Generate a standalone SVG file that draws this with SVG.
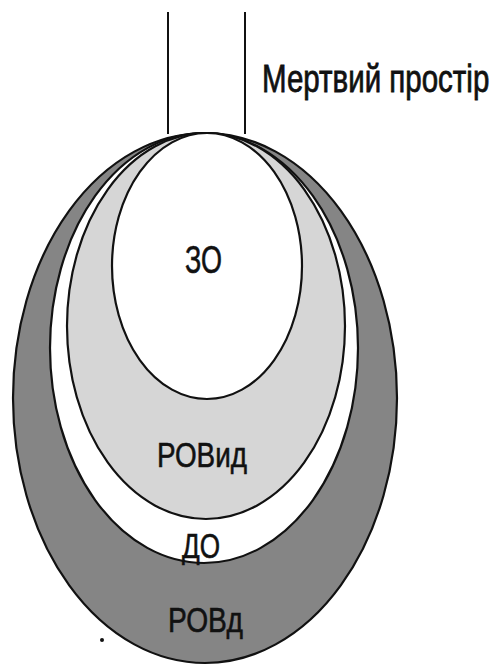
<svg xmlns="http://www.w3.org/2000/svg" width="501" height="669" viewBox="0 0 501 669">
<style>
.ln{stroke:#111;stroke-width:2;fill:none}
.sh{stroke:#111;stroke-width:2.2}
.t{font-family:"Liberation Sans",Arial,sans-serif;fill:#111;stroke:#111;stroke-width:0.6}
</style>
<rect width="501" height="669" fill="#fff"/>
<g id="tube">
<line class="ln" x1="168" y1="12" x2="168" y2="134"/>
<line class="ln" x1="245" y1="12" x2="245" y2="134"/>
</g>
<g id="label-dead-space">
<text class="t" transform="translate(262,92) scale(1,1.34)" x="0" y="0" font-size="29.5" stroke-width="0.45">Мертвий простір</text>
</g>
<g id="ROVd">
<ellipse class="sh" cx="205" cy="398" rx="192" ry="265" fill="#858585"/>
</g>
<g id="DO">
<ellipse class="sh" cx="204" cy="348" rx="154" ry="215" fill="#fff"/>
</g>
<g id="ROVid">
<ellipse class="sh" cx="206" cy="326" rx="139" ry="193" fill="#d6d6d6"/>
</g>
<g id="ZO">
<ellipse class="sh" cx="207" cy="266" rx="95" ry="133" fill="#fff"/>
</g>
<g id="labels">
<text class="t" x="185" y="273" font-size="38" textLength="37" lengthAdjust="spacingAndGlyphs">ЗО</text>
<text class="t" x="157" y="467" font-size="35" textLength="90" lengthAdjust="spacingAndGlyphs">РОВид</text>
<text class="t" x="182" y="558" font-size="35" textLength="38" lengthAdjust="spacingAndGlyphs">ДО</text>
<text class="t" x="168" y="632" font-size="35" textLength="75" lengthAdjust="spacingAndGlyphs">РОВд</text>
</g>
<circle cx="102" cy="640" r="2" fill="#111"/>
</svg>
